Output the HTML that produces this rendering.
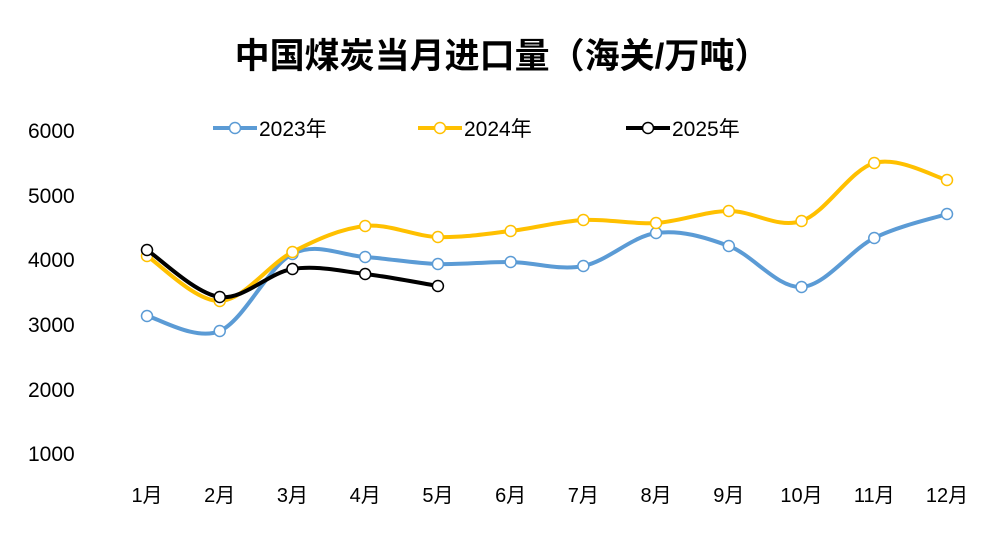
<!DOCTYPE html>
<html><head><meta charset="utf-8">
<style>
html,body{margin:0;padding:0;background:#fff;}
svg{display:block;font-family:"Liberation Sans","Noto Sans CJK SC",sans-serif;}
</style></head>
<body>
<svg id="c" width="1008" height="547" viewBox="0 0 1008 547">
<text x="502" y="68" text-anchor="middle" font-size="35" font-weight="bold" fill="#000">中国煤炭当月进口量（海关/万吨）</text>
<g font-size="21" fill="#000">
<text x="28" y="138">6000</text>
<text x="28" y="203">5000</text>
<text x="28" y="267">4000</text>
<text x="28" y="332">3000</text>
<text x="28" y="397">2000</text>
<text x="28" y="461">1000</text>
</g>
<g id="lg"></g>
<g id="series"></g>
<g id="xl" font-size="20" fill="#000" text-anchor="middle"></g>
</svg>
<script>
var ns="http://www.w3.org/2000/svg";
function el(t,a,p){var e=document.createElementNS(ns,t);for(var k in a)e.setAttribute(k,a[k]);p.appendChild(e);return e;}
var X=function(i){return 147+i*800/11;};
var S=[
 {c:"#5B9BD5",d:[316,331,254,257,264,262,266,233,246,287,238,214]},
 {c:"#FFC000",d:[256,301,252,226,237,231,220,223,211,221,163,180]},
 {c:"#000000",d:[250,297,269,274,286]}
];
var g=document.getElementById("series");
S.forEach(function(s){
 var p=s.d.map(function(y,i){return [X(i),y];});
 var d="M"+p[0][0]+","+p[0][1];
 for(var i=0;i<p.length-1;i++){
  var p0=p[i-1]||p[i],p1=p[i],p2=p[i+1],p3=p[i+2]||p2,t=6;
  d+=" C"+(p1[0]+(p2[0]-p0[0])/t)+","+(p1[1]+(p2[1]-p0[1])/t)+" "+(p2[0]-(p3[0]-p1[0])/t)+","+(p2[1]-(p3[1]-p1[1])/t)+" "+p2[0]+","+p2[1];
 }
 el("path",{d:d,fill:"none",stroke:s.c,"stroke-width":4,"stroke-linejoin":"round"},g);
 p.forEach(function(q){el("circle",{cx:q[0],cy:q[1],r:5.5,fill:"#fff",stroke:s.c,"stroke-width":1.5},g);});
});
var xl=document.getElementById("xl");
for(var i=0;i<12;i++){var t=el("text",{x:X(i),y:502},xl);t.textContent=(i+1)+"月";}
var lg=document.getElementById("lg");
[[213,"#5B9BD5","2023年"],[418,"#FFC000","2024年"],[626,"#000000","2025年"]].forEach(function(L){
 el("line",{x1:L[0],y1:128,x2:L[0]+44,y2:128,stroke:L[1],"stroke-width":4},lg);
 el("circle",{cx:L[0]+22,cy:128,r:5.5,fill:"#fff",stroke:L[1],"stroke-width":1.5},lg);
 var t=el("text",{x:L[0]+46,y:136,"font-size":21,fill:"#000"},lg);t.textContent=L[2];
});
</script>
</body></html>
